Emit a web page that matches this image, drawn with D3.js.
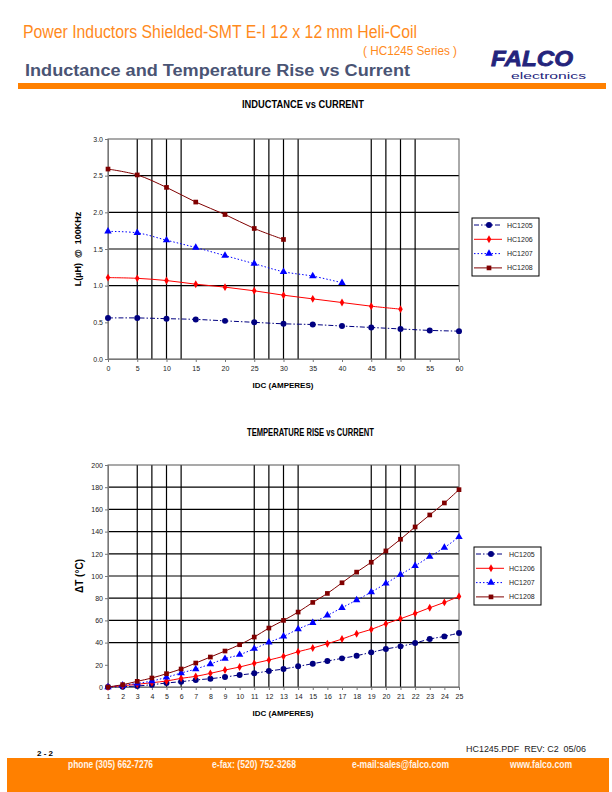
<!DOCTYPE html>
<html lang="en">
<head>
<meta charset="utf-8">
<title>HC1245 Inductance and Temperature Rise</title>
<style>
  body { margin: 0; background: #fff; }
  text { font-family: "Liberation Sans", Arial, sans-serif; }
  .narrow { font-family: "Liberation Sans Narrow", "Liberation Sans", Arial, sans-serif; }
</style>
</head>
<body>
<div id="page"></div>
<script src="https://d3js.org/d3.v7.min.js"></script>
<script>
// inductance vs current
const indX = [0, 5, 10, 15, 20, 25, 30, 35, 40, 45, 50, 55, 60]
const ind1205 = [0.56, 0.56, 0.55, 0.54, 0.52, 0.50, 0.48, 0.47, 0.45, 0.43, 0.41, 0.39, 0.38]
const ind1206 = [1.11, 1.10, 1.07, 1.02, 0.98, 0.93, 0.87, 0.82, 0.77, 0.72, 0.68]
const ind1207 = [1.74, 1.72, 1.62, 1.52, 1.41, 1.30, 1.19, 1.13, 1.04]
const ind1208 = [2.59, 2.51, 2.34, 2.14, 1.97, 1.78, 1.63]
const indGridX = [5, 7.5, 10, 12.5, 25, 27.5, 30, 32.5, 45, 47.5, 50, 52.5]
const indGridY = [1.0, 1.5, 2.0, 2.5]
const indTicksY = [0, 0.5, 1.0, 1.5, 2.0, 2.5, 3.0]

// temperature rise vs current
const tempX = d3.range(1, 26)
const t1205 = [0, 0.3, 0.9, 2.1, 3.6, 4.8, 6.3, 7.5, 9, 10.8, 12.3, 14.4, 16.2, 18.6, 21, 23.4, 25.8, 28.2, 31.2, 34.2, 36.6, 39.6, 43.2, 45.6, 48.6]
const t1206 = [0, 1.2, 2.4, 3.9, 5.4, 7.8, 9.6, 12.3, 15.3, 18, 21.3, 24.3, 27.6, 31.8, 35.1, 39, 43.2, 48, 51.9, 57, 61.5, 66.3, 71.4, 76.2, 81.6]
const t1207 = [0, 1.5, 3.3, 5.4, 8.7, 12.6, 16.2, 20.7, 25.5, 29.1, 34.5, 40.2, 45.6, 52.2, 57.9, 64.5, 71.4, 78.3, 85.5, 93.3, 101.3, 109.1, 117.5, 125.6, 135.2]
const t1208 = [0, 2.1, 5.1, 8.1, 12, 16.2, 21.6, 27, 32.4, 38.1, 45, 53.1, 60, 67.5, 76.2, 84.3, 93.9, 103.5, 112.4, 122.6, 133.1, 144.2, 155, 165.8, 177.8]
const tempGridX = [3, 4, 5, 6, 11, 12, 13, 14, 19, 20, 21, 22]
const tempGridY = [40, 60, 80, 100, 120, 140, 160, 180]
const tempTicksY = [0, 20, 40, 60, 80, 100, 120, 140, 160, 180, 200]

const seriesNames = ["HC1205", "HC1206", "HC1207", "HC1208"]
const styles = {
    HC1205: { color: "#000080", dash: "5,2,1.5,2", marker: "circle" },
    HC1206: { color: "#ff0000", dash: null, marker: "diamond" },
    HC1207: { color: "#0000ff", dash: "1.5,2", marker: "triangle" },
    HC1208: { color: "#800000", dash: null, marker: "square" }
}

const ORANGE = "#ff8000"
const svg = d3.select("#page").append("svg")
    .attr("width", 612).attr("height", 792)

// header
svg.append("text").attr("class", "narrow")
    .attr("x", 23).attr("y", 38)
    .attr("font-size", 18).attr("fill", "#ff8a1c")
    .attr("textLength", 394).attr("lengthAdjust", "spacingAndGlyphs")
    .text("Power Inductors Shielded-SMT E-I 12 x 12 mm Heli-Coil")
svg.append("text").attr("class", "narrow")
    .attr("x", 363).attr("y", 55)
    .attr("font-size", 13).attr("fill", "#ff8a1c")
    .attr("textLength", 94).attr("lengthAdjust", "spacingAndGlyphs")
    .text("( HC1245 Series )")
svg.append("text")
    .attr("x", 25).attr("y", 76)
    .attr("font-size", 16).attr("font-weight", "bold").attr("fill", "#4a5474")
    .attr("textLength", 385).attr("lengthAdjust", "spacingAndGlyphs")
    .text("Inductance and Temperature Rise vs Current")
svg.append("rect").attr("x", 18).attr("y", 83).attr("width", 588).attr("height", 6).attr("fill", ORANGE)

// logo
svg.append("text")
    .attr("x", 491).attr("y", 66)
    .attr("font-size", 22).attr("font-weight", 900).attr("font-style", "italic")
    .attr("fill", "#24247c").attr("stroke", "#24247c").attr("stroke-width", 0.8)
    .attr("textLength", 82).attr("lengthAdjust", "spacingAndGlyphs")
    .text("FALCO")
svg.append("text")
    .attr("x", 511).attr("y", 79)
    .attr("font-size", 9).attr("fill", "#24247c")
    .attr("textLength", 75).attr("lengthAdjust", "spacingAndGlyphs")
    .text("electronics")

function markerPath(type) {
    if (type === "circle") return d3.symbol(d3.symbolCircle, 28)()
    if (type === "diamond") return d3.symbol(d3.symbolDiamond, 18)()
    if (type === "triangle") return d3.symbol(d3.symbolTriangle, 24)()
    return d3.symbol(d3.symbolSquare, 22)()
}

function drawChart(cfg) {
    let g = svg.append("g")
    let x = d3.scaleLinear().domain(cfg.xDomain).range([108, 459])
    let y = d3.scaleLinear().domain(cfg.yDomain).range([cfg.bottom, cfg.top])

    g.append("text").attr("class", "narrow")
        .attr("x", cfg.titleX).attr("y", cfg.titleY)
        .attr("font-size", 10).attr("font-weight", "bold")
        .attr("textLength", cfg.titleW).attr("lengthAdjust", "spacingAndGlyphs")
        .text(cfg.title)

    // grid
    g.selectAll(".gx").data(cfg.gridX).join("line")
        .attr("x1", d => x(d)).attr("x2", d => x(d))
        .attr("y1", cfg.top).attr("y2", cfg.bottom)
        .attr("stroke", "#000").attr("stroke-width", 1.2)
    g.selectAll(".gy").data(cfg.gridY).join("line")
        .attr("x1", 108).attr("x2", 459)
        .attr("y1", d => y(d)).attr("y2", d => y(d))
        .attr("stroke", "#000").attr("stroke-width", 1.2)
    g.append("rect")
        .attr("x", 108).attr("y", cfg.top)
        .attr("width", 351).attr("height", cfg.bottom - cfg.top)
        .attr("fill", "none").attr("stroke", "#555").attr("stroke-width", 1)

    // axes
    let xAxis = d3.axisBottom(x).tickValues(cfg.xTicks).tickSize(3).tickFormat(d3.format("d"))
    let yAxis = d3.axisLeft(y).tickValues(cfg.yTicks).tickSize(3).tickFormat(cfg.yFormat)
    g.append("g").attr("transform", `translate(0,${cfg.bottom})`).call(xAxis)
        .call(a => a.select(".domain").attr("stroke", "#777"))
        .call(a => a.selectAll("line").attr("stroke", "#777"))
        .call(a => a.selectAll("text").attr("font-size", 7).attr("fill", "#222").attr("dy", "0.9em"))
    g.append("g").attr("transform", "translate(108,0)").call(yAxis)
        .call(a => a.select(".domain").attr("stroke", "#777"))
        .call(a => a.selectAll("line").attr("stroke", "#777"))
        .call(a => a.selectAll("text").attr("font-size", 7).attr("fill", "#222").attr("x", -5))

    g.append("text")
        .attr("x", 283).attr("y", cfg.xLabelY).attr("text-anchor", "middle")
        .attr("font-size", 8).attr("font-weight", "bold")
        .text("IDC (AMPERES)")
    g.append("text")
        .attr("transform", `translate(${cfg.yLabelX},${(cfg.top + cfg.bottom) / 2}) rotate(-90)`)
        .attr("text-anchor", "middle")
        .attr("font-size", cfg.yLabelSize).attr("font-weight", "bold")
        .attr("xml:space", "preserve")
        .text(cfg.yLabel)

    // series
    let line = d3.line().x(d => x(d[0])).y(d => y(d[1])).curve(d3.curveCatmullRom)
    cfg.series.forEach((vals, i) => {
        let name = seriesNames[i]
        let st = styles[name]
        let pts = vals.map((v, j) => [cfg.xs[j], v])
        g.append("path").datum(pts)
            .attr("d", line)
            .attr("fill", "none").attr("stroke", st.color).attr("stroke-width", 1)
            .attr("stroke-dasharray", st.dash)
        g.selectAll(".m" + name).data(pts).join("path")
            .attr("transform", d => `translate(${x(d[0])},${y(d[1])})`)
            .attr("d", markerPath(st.marker))
            .attr("fill", st.color)
    })

    // legend
    let lg = g.append("g").attr("transform", `translate(${cfg.legX},${cfg.legY})`)
    lg.append("rect").attr("width", 67).attr("height", 58)
        .attr("fill", "#fff").attr("stroke", "#000").attr("stroke-width", 1)
    seriesNames.forEach((name, i) => {
        let st = styles[name]
        let ly = 7 + i * 14.3
        lg.append("line").attr("x1", 2).attr("x2", 30).attr("y1", ly).attr("y2", ly)
            .attr("stroke", st.color).attr("stroke-width", 1)
            .attr("stroke-dasharray", st.dash)
        lg.append("path").attr("transform", `translate(17,${ly})`)
            .attr("d", markerPath(st.marker)).attr("fill", st.color)
        lg.append("text").attr("x", 35).attr("y", ly + 2.5)
            .attr("font-size", 7).attr("fill", "#222")
            .text(name)
    })
}

drawChart({
    title: "INDUCTANCE vs CURRENT", titleX: 242, titleY: 108, titleW: 122,
    xDomain: [0, 60], yDomain: [0, 3], top: 139, bottom: 359,
    xTicks: indX, yTicks: indTicksY, yFormat: d3.format(".1f"),
    gridX: indGridX, gridY: indGridY,
    xs: indX, series: [ind1205, ind1206, ind1207, ind1208],
    xLabelY: 388, yLabel: "L(µH)  @  100KHz", yLabelX: 81, yLabelSize: 9,
    legX: 472, legY: 218
})

drawChart({
    title: "TEMPERATURE RISE vs CURRENT", titleX: 247, titleY: 436, titleW: 127,
    xDomain: [1, 25], yDomain: [0, 200], top: 465, bottom: 687,
    xTicks: tempX, yTicks: tempTicksY, yFormat: d3.format("d"),
    gridX: tempGridX, gridY: tempGridY,
    xs: tempX, series: [t1205, t1206, t1207, t1208],
    xLabelY: 716, yLabel: "ΔT (°C)", yLabelX: 83, yLabelSize: 10,
    legX: 474, legY: 547
})

// footer
svg.append("text").attr("x", 37).attr("y", 756)
    .attr("font-size", 8).attr("font-weight", "bold").text("2 - 2")
svg.append("text").attr("x", 466).attr("y", 752)
    .attr("font-size", 9).attr("fill", "#222")
    .attr("textLength", 120).attr("lengthAdjust", "spacingAndGlyphs")
    .attr("xml:space", "preserve")
    .text("HC1245.PDF  REV: C2  05/06")
svg.append("rect").attr("x", 7).attr("y", 758).attr("width", 602).attr("height", 34).attr("fill", ORANGE)
const footerTexts = [
    ["phone (305) 662-7276", 68, 85],
    ["e-fax: (520) 752-3268", 212, 84],
    ["e-mail:sales@falco.com", 352, 97],
    ["www.falco.com", 510, 62]
]
svg.selectAll(".foot").data(footerTexts).join("text")
    .attr("class", "narrow")
    .attr("x", d => d[1]).attr("y", 768)
    .attr("font-size", 10).attr("font-weight", "bold").attr("fill", "#fff4e8")
    .attr("textLength", d => d[2]).attr("lengthAdjust", "spacingAndGlyphs")
    .text(d => d[0])
</script>
</body>
</html>
